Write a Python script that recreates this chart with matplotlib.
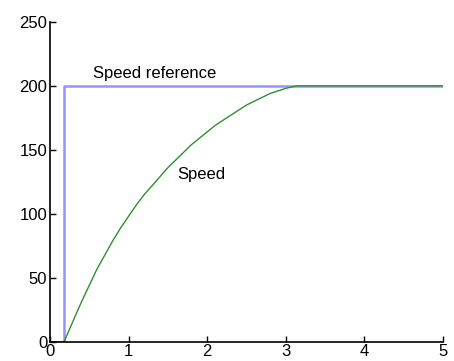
import matplotlib
matplotlib.use("Agg")
from matplotlib import pyplot as plt

# data
t_ref = [0, 0.18, 0.18, 5]
speed_ref = [0, 0, 200, 200]

t_speed = [0, 0.18, 0.3, 0.4, 0.5, 0.6, 0.7, 0.8, 0.9, 1.0, 1.1, 1.2, 1.3,
           1.4, 1.5, 1.6, 1.7, 1.8, 1.9, 2.0, 2.1, 2.2, 2.3, 2.4, 2.5,
           2.6, 2.7, 2.8, 2.9, 3.0, 3.1, 3.15, 5]
speed = [0, 0, 17, 31, 44, 57, 68, 79, 89, 98, 107, 115, 122,
         129, 136, 142, 148, 154, 159, 164, 169, 173, 177, 181, 185,
         188, 191, 194, 196, 198, 199.5, 200, 200]

x_ticks = [0, 1, 2, 3, 4, 5]
y_ticks = [0, 50, 100, 150, 200, 250]

plt.rcParams['font.family'] = ['Liberation Sans', 'DejaVu Sans']

fig = plt.figure(figsize=(4.54, 3.61), dpi=100)
ax = fig.add_axes([0.110, 0.0535, 0.866, 0.886])

ax.plot(t_ref, speed_ref, color='#9494ff', lw=1.8)
ax.plot(t_speed, speed, color='#2f8f2f', lw=1.0)

ax.text(1.33, 210, 'Speed reference', ha='center', va='center', fontsize=12)
ax.text(1.92, 131, 'Speed', ha='center', va='center', fontsize=12)

ax.set_xlim(0, 5)
ax.set_ylim(0, 250)
ax.set_xticks(x_ticks)
ax.set_yticks(y_ticks)
ax.tick_params(direction='in', length=4, width=1, labelsize=12, pad=2)
for s in ['top', 'right']:
    ax.spines[s].set_visible(False)
for s in ['left', 'bottom']:
    ax.spines[s].set_linewidth(1.2)

fig.savefig('out.png', dpi=100)
